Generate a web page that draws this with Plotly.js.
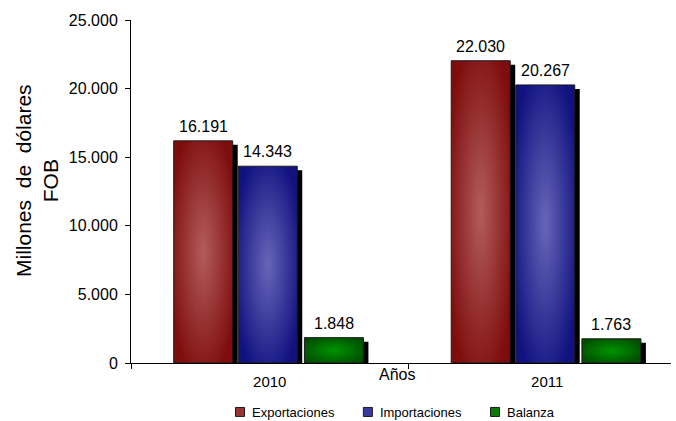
<!DOCTYPE html>
<html>
<head>
<meta charset="utf-8">
<script src="https://cdn.plot.ly/plotly-3.0.1.min.js"></script>
<style>
  html, body { margin: 0; padding: 0; background: #fff; }
  #chart { width: 676px; height: 421px; }
</style>
</head>
<body>
<div id="chart"></div>
<script>
// ---- data ----
const categories = ['2010', '2011'];
const seriesNames = ['Exportaciones', 'Importaciones', 'Balanza'];
const exportaciones = [16191, 22030];
const importaciones = [14343, 20267];
const balanza = [1848, 1763];
const yTickVals = [0, 5000, 10000, 15000, 20000, 25000];
const yTickText = ['0', '5.000', '10.000', '15.000', '20.000', '25.000'];

// ---- style ----
const seriesValues = [exportaciones, importaciones, balanza];
const legendColors = ['#9a3434', '#3a3a9e', '#0a7a0a'];
const gradStops = [
  ['#b35c5c', '#7e0d0d'],
  ['#6666b8', '#111180'],
  ['#009400', '#004c00']
];
const barW = 0.2126;
const offsets = [-0.346, -0.1135, 0.125];
const shadowDx = 0.018;
const shadowDyPx = 4;
const font = '"Liberation Sans", Arial, sans-serif';

const plotTop = 20, plotBottom = 363, plotLeft = 131, plotRight = 671;
const yMax = 25000;
const unitsPerPx = yMax / (plotBottom - plotTop);

function fmt(v) {
  return String(v).replace(/\B(?=(\d{3})+(?!\d))/g, '.');
}

const traces = [];
// shadows first (behind)
seriesValues.forEach((vals, i) => {
  traces.push({
    type: 'bar',
    x: categories,
    y: vals.map(v => v - shadowDyPx * unitsPerPx),
    width: barW,
    offset: offsets[i] + shadowDx,
    marker: { color: '#000000', line: { width: 0 } },
    showlegend: false,
    hoverinfo: 'skip'
  });
});
seriesValues.forEach((vals, i) => {
  traces.push({
    type: 'bar',
    name: seriesNames[i],
    x: categories,
    y: vals,
    width: barW,
    offset: offsets[i],
    marker: { color: legendColors[i], line: { color: '#1a1a1a', width: 1 } }
  });
});

const annotations = [];
seriesValues.forEach((vals, i) => {
  vals.forEach((v, j) => {
    annotations.push({
      x: j + offsets[i] + barW / 2,
      y: v,
      xref: 'x', yref: 'y',
      text: fmt(v),
      showarrow: false,
      yanchor: 'bottom',
      yshift: 4,
      font: { family: font, size: 16, color: '#000' }
    });
  });
});
annotations.push({
  xref: 'paper', yref: 'paper',
  x: (397 - plotLeft) / (plotRight - plotLeft),
  y: (plotBottom - 374) / (plotBottom - plotTop),
  text: 'Años', showarrow: false,
  xanchor: 'center', yanchor: 'middle',
  font: { family: font, size: 16, color: '#000' }
});
annotations.push({
  xref: 'paper', yref: 'paper',
  x: (37 - plotLeft) / (plotRight - plotLeft),
  y: (plotBottom - 181) / (plotBottom - plotTop),
  text: 'Millones&nbsp;&nbsp;de&nbsp;&nbsp;dólares<br>FOB',
  textangle: -90,
  showarrow: false,
  xanchor: 'center', yanchor: 'middle',
  font: { family: font, size: 21, color: '#000' }
});

const layout = {
  width: 676, height: 421,
  margin: { l: plotLeft, r: 676 - plotRight, t: plotTop, b: 421 - plotBottom, pad: 0, autoexpand: false },
  paper_bgcolor: '#ffffff',
  plot_bgcolor: '#ffffff',
  barmode: 'overlay',
  separators: ',.',
  font: { family: font, color: '#000' },
  xaxis: {
    type: 'category',
    range: [-0.5, 1.446],
    showline: true, linecolor: '#000', linewidth: 1,
    ticks: 'outside', tickson: 'boundaries', ticklen: 5, tickcolor: '#000',
    ticklabelstandoff: 5,
    showgrid: false, zeroline: false, automargin: false,
    tickfont: { family: font, size: 15, color: '#000' }
  },
  yaxis: {
    range: [0, yMax],
    tickvals: yTickVals, ticktext: yTickText,
    showline: true, linecolor: '#000', linewidth: 1,
    ticks: 'outside', ticklen: 5, tickcolor: '#000',
    ticklabelstandoff: 4,
    showgrid: false, zeroline: false, automargin: false,
    tickfont: { family: font, size: 16, color: '#000' }
  },
  showlegend: true,
  legend: {
    orientation: 'h',
    x: (386 - plotLeft) / (plotRight - plotLeft),
    xanchor: 'center',
    y: (plotBottom - 412) / (plotBottom - plotTop),
    yanchor: 'middle',
    font: { family: font, size: 13, color: '#000' },
    itemwidth: 30,
    tracegroupgap: 0
  },
  annotations: annotations
};

Plotly.newPlot('chart', traces, layout, { displayModeBar: false, staticPlot: true }).then(() => {
  const svgNS = 'http://www.w3.org/2000/svg';
  const defs = document.querySelector('#chart .main-svg defs');
  gradStops.forEach((s, i) => {
    const g = document.createElementNS(svgNS, 'radialGradient');
    g.setAttribute('id', 'barGrad' + i);
    g.setAttribute('cx', '0.5'); g.setAttribute('cy', '0.5');
    g.setAttribute('r', '0.6');
    [[0, s[0]], [1, s[1]]].forEach(([o, c]) => {
      const st = document.createElementNS(svgNS, 'stop');
      st.setAttribute('offset', o);
      st.setAttribute('stop-color', c);
      g.appendChild(st);
    });
    defs.appendChild(g);
  });
  const groups = document.querySelectorAll('#chart .barlayer .trace');
  groups.forEach((grp, k) => {
    if (k >= 3) {
      grp.querySelectorAll('path').forEach(p => { p.style.fill = 'url(#barGrad' + (k - 3) + ')'; });
    }
  });
  // smaller square legend icons, placed close to their text like the reference
  document.querySelectorAll('#chart .legend .legendpoints path').forEach(p => {
    p.setAttribute('d', 'M4.5,4.5H-4.5V-4.5H4.5Z');
    p.setAttribute('transform', 'translate(28,0)');
    p.style.strokeWidth = '1px';
  });
});
</script>
</body>
</html>
